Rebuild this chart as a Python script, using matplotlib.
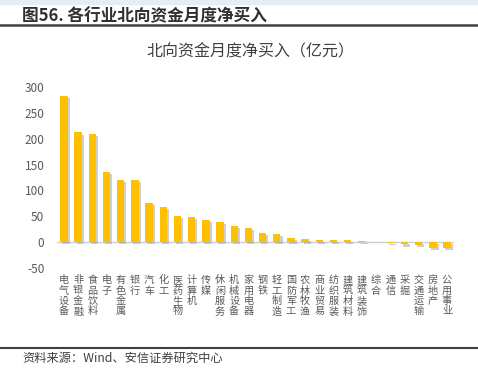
import matplotlib
matplotlib.use('Agg')
import matplotlib.pyplot as plt
import matplotlib.patheffects as pe
from matplotlib.transforms import blended_transform_factory

plt.rcParams['font.family'] = ['Noto Sans CJK SC', 'DejaVu Sans']

industries = ['电气设备', '非银金融', '食品饮料', '电子', '有色金属', '银行', '汽车', '化工',
              '医药生物', '计算机', '传媒', '休闲服务', '机械设备', '家用电器', '钢铁', '轻工制造',
              '国防军工', '农林牧渔', '商业贸易', '纺织服装', '建筑材料', '建筑装饰', '综合', '通信',
              '采掘', '交通运输', '房地产', '公用事业']
net_buy = [283, 212, 209, 135, 121, 120, 76, 68, 51, 49, 42, 39, 31, 28, 18, 15,
           8, 6.5, 5, 4.5, 4, 2, -0.5, -1.5, -4.5, -6, -11.5, -12]
yticks = [-50, 0, 50, 100, 150, 200, 250, 300]

fig = plt.figure(figsize=(4.78, 3.78), dpi=100)
# thin light strip on top edge
fig.add_artist(plt.Rectangle((0, 0.99), 1, 0.01, color='#e6edf7', transform=fig.transFigure))
ax = fig.add_axes([0.119, 0.291, 0.831, 0.479])

x = list(range(len(industries)))
bars = ax.bar(x, net_buy, width=0.52, color='#FFC000', zorder=3)
for b in bars:
    b.set_path_effects([pe.SimplePatchShadow(offset=(1.5, -1.5), shadow_rgbFace='#a0a0a0', alpha=0.5),
                        pe.Normal()])

ax.axhline(0, color='#d0d0d0', lw=1, zorder=2)
ax.set_xlim(-0.5, len(industries) - 0.5)
ax.set_ylim(-50, 300)
ax.set_yticks(yticks)
ax.set_yticklabels([str(v) for v in yticks], fontsize=8.5, color='#595959')
ax.tick_params(axis='y', length=0, pad=9)
ax.set_xticks([])
for s in ax.spines.values():
    s.set_visible(False)

trans = blended_transform_factory(ax.transData, ax.transAxes)
for i, name in enumerate(industries):
    ax.text(i, -0.04, '\n'.join(name), transform=trans, ha='center', va='top',
            fontsize=7.3, color='#595959', linespacing=1.05)

fig.text(0.523, 0.862, '北向资金月度净买入（亿元）', ha='center', va='center',
         fontsize=11.5, color='#404040')

fig.text(0.046, 0.958, '图56. 各行业北向资金月度净买入', ha='left', va='center',
         fontsize=12, color='#303030', fontweight='bold')
fig.add_artist(plt.Line2D([0, 1], [0.933, 0.933], color='#404040', lw=1.8))
fig.add_artist(plt.Line2D([0, 1], [0.079, 0.079], color='#404040', lw=1.5))
fig.text(0.046, 0.052, '资料来源：Wind、安信证券研究中心', ha='left', va='center',
         fontsize=8.8, color='#404040', style='italic')

fig.savefig('out.png', dpi=100)
